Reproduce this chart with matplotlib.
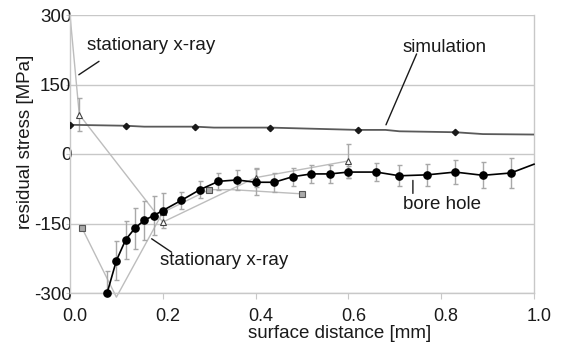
import numpy as np
import matplotlib
matplotlib.use("Agg")
import matplotlib.pyplot as plt
from matplotlib.transforms import ScaledTranslation

plt.rcParams["font.family"] = ["Liberation Sans", "DejaVu Sans"]

# bore hole measurement (black circles)
bore_x = [0.08, 0.10, 0.12, 0.14, 0.16, 0.18, 0.20, 0.24, 0.28, 0.32, 0.36, 0.40,
          0.44, 0.48, 0.52, 0.56, 0.60, 0.66, 0.71, 0.77, 0.83, 0.89, 0.95, 1.0]
bore_y = [-300, -230, -185, -160, -143, -133, -122, -100, -77, -59, -56, -61,
          -61, -49, -43, -43, -39, -39, -47, -45, -39, -46, -41, -22]
bore_err = [48, 43, 41, 44, 42, 42, 37, 18, 18, 19, 22, 28,
            20, 19, 20, 20, 13, 20, 23, 23, 26, 28, 33, np.nan]

# simulation
sim_x = [0.0, 0.12, 0.16, 0.27, 0.31, 0.43, 0.62, 0.68, 0.71, 0.83, 0.89, 1.0]
sim_y = [63, 61, 59, 59, 57, 57, 52, 52, 49, 47, 43, 42]
sim_marked = [0, 1, 3, 5, 6, 9]

# stationary x-ray, triangles
tri_x = [0.0, 0.02, 0.20, 0.40, 0.60]
tri_y = [300, 85, -147, -51, -15]
tri_err = [np.nan, 36, np.nan, 20, 36]

# stationary x-ray, squares
sq_x = [0.026, 0.10, 0.20, 0.30, 0.35, 0.50]
sq_y = [-160, -309, -126, -77, -77, -86]
sq_marked = [0, 2, 3, 5]

yticks = [-300, -150, 0, 150, 300]
xticks = [0.0, 0.2, 0.4, 0.6, 0.8, 1.0]

grid_c = "#c8c8c8"
light = "#bdbdbd"

fig = plt.figure(figsize=(5.61, 3.43), dpi=100)
ax = fig.add_axes([70 / 561, 50 / 343, 464 / 561, 278 / 343])
ax.set_xlim(0, 1.0)
ax.set_ylim(-300, 300)

# grid + frame
for yv in yticks:
    ax.axhline(yv, color=grid_c, lw=1.0, zorder=0)
for s in ["left", "right", "bottom"]:
    ax.spines[s].set_color(grid_c)
    ax.spines[s].set_linewidth(1.0)
ax.spines["top"].set_visible(False)

# stationary x-ray lines (light grey)
ax.plot(tri_x, tri_y, color=light, lw=1.0, zorder=2, clip_on=False)
ax.plot(tri_x[1:], tri_y[1:], ls="none", marker="^", ms=5, mfc="white",
        mec="#444444", mew=0.8, zorder=5, clip_on=False)
ax.errorbar(tri_x, tri_y, yerr=tri_err, fmt="none", ecolor="#a8a8a8",
            elinewidth=1.0, capsize=1.8, zorder=3)

ax.plot(sq_x, sq_y, color=light, lw=1.0, zorder=2, clip_on=False)
ax.plot([sq_x[i] for i in sq_marked], [sq_y[i] for i in sq_marked], ls="none",
        marker="s", ms=5, mfc="#a9a9a9", mec="#555555", mew=0.8, zorder=5)

# simulation
ax.plot(sim_x, sim_y, color="#5a5a5a", lw=1.3, zorder=3)
ax.plot([sim_x[i] for i in sim_marked], [sim_y[i] for i in sim_marked], ls="none",
        marker="D", ms=3.2, color="#1a1a1a", zorder=4)

# bore hole
ax.errorbar(bore_x, bore_y, yerr=bore_err, fmt="none", ecolor="#a8a8a8",
            elinewidth=1.0, capsize=1.8, zorder=3)
ax.plot(bore_x, bore_y, color="black", lw=1.2, zorder=6, clip_on=False)
ax.plot(bore_x[:-1], bore_y[:-1], ls="none", marker="o", ms=5.2, color="black",
        zorder=7, clip_on=False)

# ticks
ax.set_xticks(xticks)
ax.set_xticklabels(["0.0", "0.2", "0.4", "0.6", "0.8", "1.0"])
ax.set_yticks(yticks)
ax.set_yticklabels([str(v) for v in yticks])
ax.tick_params(axis="x", length=4, color=grid_c, pad=6.5, labelsize=13,
               labelcolor="#1a1a1a")
ax.tick_params(axis="y", length=3, color=grid_c, pad=-4, labelsize=13.5,
               labelcolor="#1a1a1a")
shift = ScaledTranslation(5 / 100, 0, fig.dpi_scale_trans)
for lab in ax.get_xticklabels():
    lab.set_transform(lab.get_transform() + shift)

ax.set_xlabel("surface distance [mm]", fontsize=13.5, color="#1a1a1a")
ax.xaxis.set_label_coords(0.582, -0.115)
ax.set_ylabel("residual stress [MPa]", fontsize=13.5, color="#1a1a1a")
ax.yaxis.set_label_coords(-0.078, 0.545)

# labels with pointer lines
txt = dict(fontsize=13.5, color="#1a1a1a", ha="left", va="baseline")
ax.text(0.037, 225, "stationary x-ray", **txt)
ax.text(0.717, 220, "simulation", **txt)
ax.text(0.717, -118, "bore hole", **txt)
ax.text(0.194, -240, "stationary x-ray", **txt)

ptr = dict(arrowstyle="-", color="#1a1a1a", lw=1.0, shrinkA=0, shrinkB=0)
ax.annotate("", xy=(0.019, 171), xytext=(0.0625, 200), arrowprops=ptr)
ax.annotate("", xy=(0.681, 63), xytext=(0.747, 216), arrowprops=ptr)
ax.annotate("", xy=(0.739, -85), xytext=(0.739, -57), arrowprops=ptr)
ax.annotate("", xy=(0.219, -212), xytext=(0.176, -183), arrowprops=ptr)

fig.savefig("out.png", dpi=100)
